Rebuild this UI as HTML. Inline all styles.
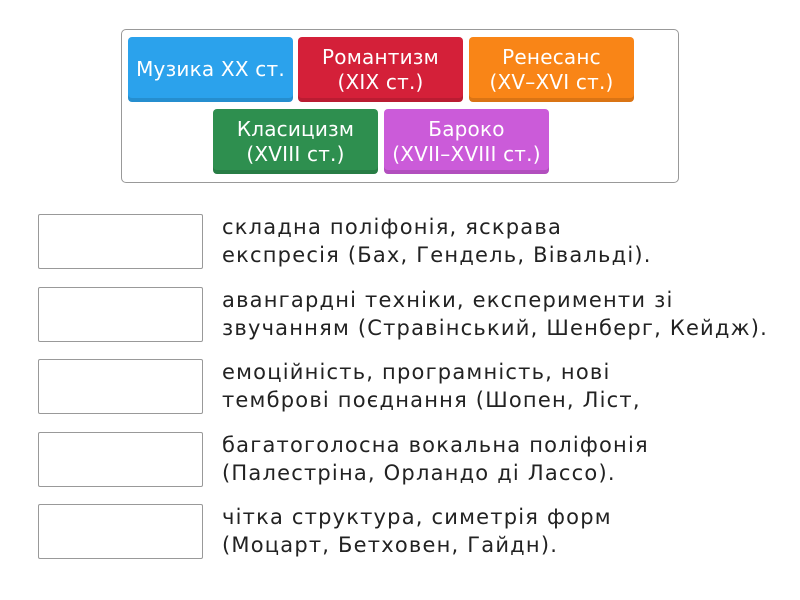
<!DOCTYPE html>
<html><head><meta charset="utf-8"><style>
body{margin:0;width:800px;height:600px;background:#fff;font-family:"DejaVu Sans",sans-serif;position:relative;overflow:hidden}
.c{position:absolute;left:121px;top:29px;width:556px;height:152px;border:1px solid #999;border-radius:5px}
.t{position:absolute;width:165px;height:65px;border-radius:4px;color:#fff;font-size:20px;line-height:25px;letter-spacing:0.2px;display:flex;align-items:center;justify-content:center;text-align:center;box-shadow:inset 0 -4px 0 rgba(0,0,0,.12);white-space:nowrap}
.b{position:absolute;left:38px;width:163px;height:53px;border:1px solid #999;border-radius:2px}
.x{position:absolute;left:222px;font-size:21px;line-height:28px;letter-spacing:1.2px;color:#222;white-space:nowrap}
</style></head><body>
<div class="c"></div>
<div class="t" style="left:128px;top:37px;background:#2ba2ec">Музика XX ст.</div>
<div class="t" style="left:298px;top:37px;background:#d42039">Романтизм<br>(XIX ст.)</div>
<div class="t" style="left:469px;top:37px;background:#f98517">Ренесанс<br>(XV–XVI ст.)</div>
<div class="t" style="left:213px;top:109px;background:#2e8f4f">Класицизм<br>(XVIII ст.)</div>
<div class="t" style="left:384px;top:109px;background:#cb5bd9">Бароко<br>(XVII–XVIII ст.)</div>

<div class="b" style="top:214px"></div>
<div class="x" style="top:213px">складна поліфонія, яскрава<br>експресія (Бах, Гендель, Вівальді).</div>
<div class="b" style="top:287px"></div>
<div class="x" style="top:286px">авангардні техніки, експерименти зі<br>звучанням (Стравінський, Шенберг, Кейдж).</div>
<div class="b" style="top:359px"></div>
<div class="x" style="top:358px">емоційність, програмність, нові<br>темброві поєднання (Шопен, Ліст,</div>
<div class="b" style="top:432px"></div>
<div class="x" style="top:431px">багатоголосна вокальна поліфонія<br>(Палестріна, Орландо ді Лассо).</div>
<div class="b" style="top:504px"></div>
<div class="x" style="top:503px">чітка структура, симетрія форм<br>(Моцарт, Бетховен, Гайдн).</div>
</body></html>
